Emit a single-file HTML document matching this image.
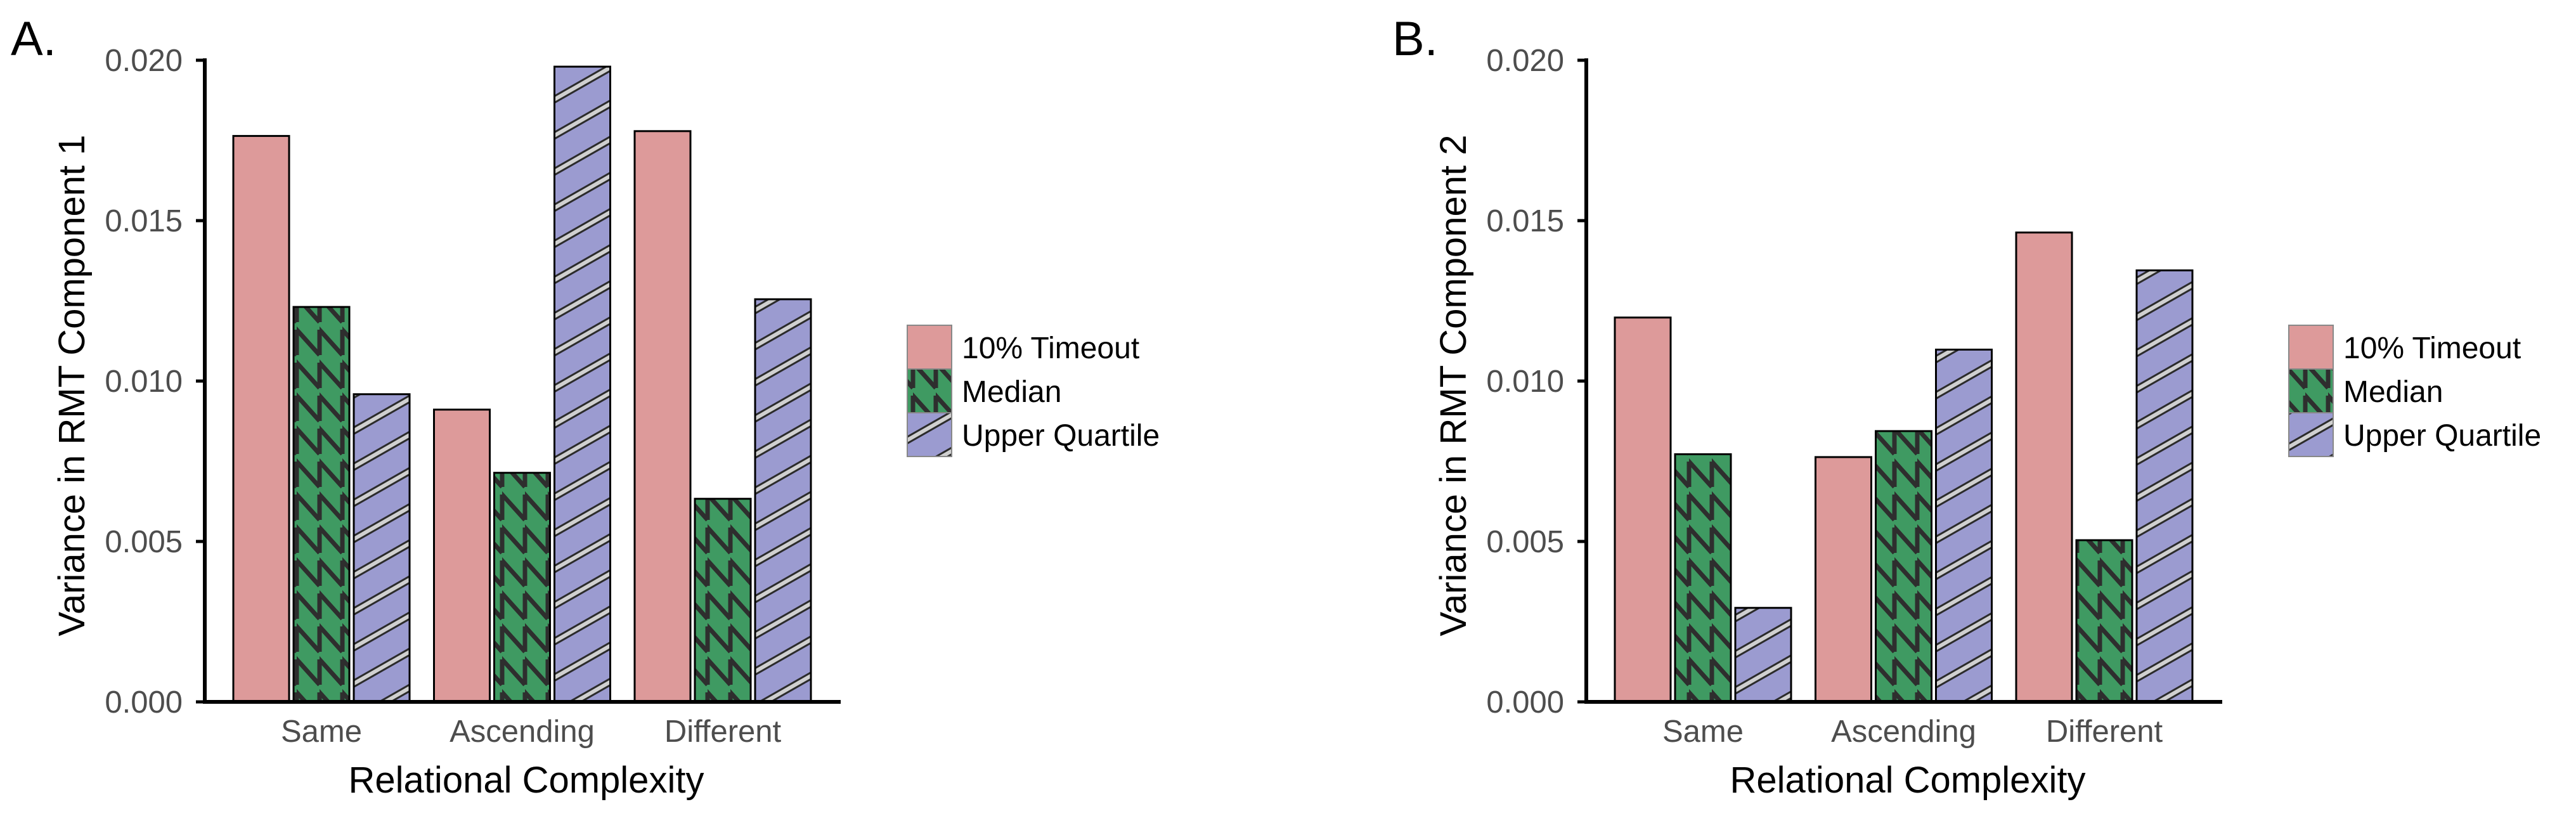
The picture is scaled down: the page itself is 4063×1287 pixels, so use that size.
<!DOCTYPE html>
<html><head><meta charset="utf-8"><style>
html,body{margin:0;padding:0;background:#fff;}
svg{display:block;font-family:"Liberation Sans",Arial,sans-serif;}
</style></head><body>
<svg id="chart" width="4063" height="1287" viewBox="0 0 4063 1287" xmlns="http://www.w3.org/2000/svg">
<defs>
<pattern id="zig" patternUnits="userSpaceOnUse" width="36" height="52">
<rect width="36" height="52" fill="#3f9a62"/>
<path d="M0,0 L36,40 M-36,-40 L0,0 M0,52 L36,92 M-36,12 L0,52 M0,-52 L36,-12 M0,0 L0,40 M36,0 L36,40 M0,52 L0,92 M36,52 L36,92 M0,-52 L0,-12 M36,-52 L36,-12" stroke="#2e2e2e" stroke-width="7" fill="none"/>
</pattern>
<pattern id="stripe" patternUnits="userSpaceOnUse" width="100" height="49.5" patternTransform="rotate(-29.7)">
<rect width="100" height="49.5" fill="#9b9bd0"/>
<rect y="19" width="100" height="12" fill="#2b2b2b"/>
<rect y="22" width="100" height="6" fill="#d0d0d0"/>
</pattern>
</defs>
</svg>
<script>
const categories = ["Same", "Ascending", "Different"];
const seriesNames = ["10% Timeout", "Median", "Upper Quartile"];
const panelA_timeout = [0.01764, 0.00911, 0.01779];
const panelA_median = [0.01231, 0.00714, 0.00633];
const panelA_upper = [0.00959, 0.0198, 0.01255];
const panelB_timeout = [0.01198, 0.00763, 0.01463];
const panelB_median = [0.00772, 0.00844, 0.00504];
const panelB_upper = [0.00293, 0.01098, 0.01345];
const yTicks = [0, 0.005, 0.010, 0.015, 0.020];
const yTickLabels = ["0.000", "0.005", "0.010", "0.015", "0.020"];

const NS = "http://www.w3.org/2000/svg";
const svg = document.getElementById('chart');
const fills = ["#dd9a9a", "url(#zig)", "url(#stripe)"];
function mk(tag, attrs, parent) {
  const e = document.createElementNS(NS, tag);
  for (const k in attrs) e.setAttribute(k, attrs[k]);
  (parent || svg).appendChild(e);
  return e;
}
function drawPanel(ax, letter, title, series, pname) {
  const y0 = 1107, yTop = 95, yMax = 0.02;
  const yS = v => y0 - (v / yMax) * (y0 - yTop);
  const groupW = 316.5, firstC = ax + 184;
  const xS = i => firstC + i * groupW;
  const g = mk('g', {});
  
  
  const lab = mk('text', {x: ax - 306, y: 87, 'font-size': 76, fill: '#000'}, g);
  lab.textContent = letter;
  
  
  for (let c = 0; c < categories.length; c++) {
    for (let s = 0; s < 3; s++) {
      const v = series[s][c];
      const x = xS(c) + (s - 1) * 95 - 44;
      const r = mk('rect', {x: x, y: yS(v), width: 88, height: y0 - yS(v), fill: fills[s], stroke: '#000', 'stroke-width': 3}, g);
      
      
    }
    const t = mk('text', {x: xS(c), y: 1170, 'font-size': 49, fill: '#4d4d4d', 'text-anchor': 'middle'}, g);
    t.textContent = categories[c];
    
    
  }
  const ya = mk('line', {x1: ax, y1: yTop - 3, x2: ax, y2: y0 + 3, stroke: '#000', 'stroke-width': 6}, g);
  
  
  const xa = mk('line', {x1: ax - 3, y1: y0, x2: ax + 1003, y2: y0, stroke: '#000', 'stroke-width': 6}, g);
  
  
  for (let i = 0; i < yTicks.length; i++) {
    const y = yS(yTicks[i]);
    const tk = mk('line', {x1: ax - 14, y1: y, x2: ax, y2: y, stroke: '#000', 'stroke-width': 5}, g);
    
    
    const tl = mk('text', {x: ax - 35, y: y + 17, 'font-size': 49, fill: '#4d4d4d', 'text-anchor': 'end'}, g);
    tl.textContent = yTickLabels[i];
    
    
  }
  const yt = mk('text', {x: 0, y: 0, 'font-size': 58, fill: '#000', 'text-anchor': 'middle', transform: 'translate(' + (ax - 190) + ',608) rotate(-90)'}, g);
  yt.textContent = title;
  
  
  const xt = mk('text', {x: ax + 507, y: 1250, 'font-size': 58, fill: '#000', 'text-anchor': 'middle'}, g);
  xt.textContent = 'Relational Complexity';
  
  
  for (let s = 0; s < 3; s++) {
    const ky = 513 + s * 69;
    const k = mk('rect', {x: ax + 1108, y: ky, width: 70, height: 69, fill: fills[s], stroke: '#888', 'stroke-width': 2}, g);
    
    
    const lt = mk('text', {x: ax + 1194, y: ky + 52, 'font-size': 48, fill: '#000'}, g);
    lt.textContent = seriesNames[s];
    
    
  }
}
drawPanel(323, 'A.', 'Variance in RMT Component 1', [panelA_timeout, panelA_median, panelA_upper], 'a');
drawPanel(2502, 'B.', 'Variance in RMT Component 2', [panelB_timeout, panelB_median, panelB_upper], 'b');
</script>
</body></html>
